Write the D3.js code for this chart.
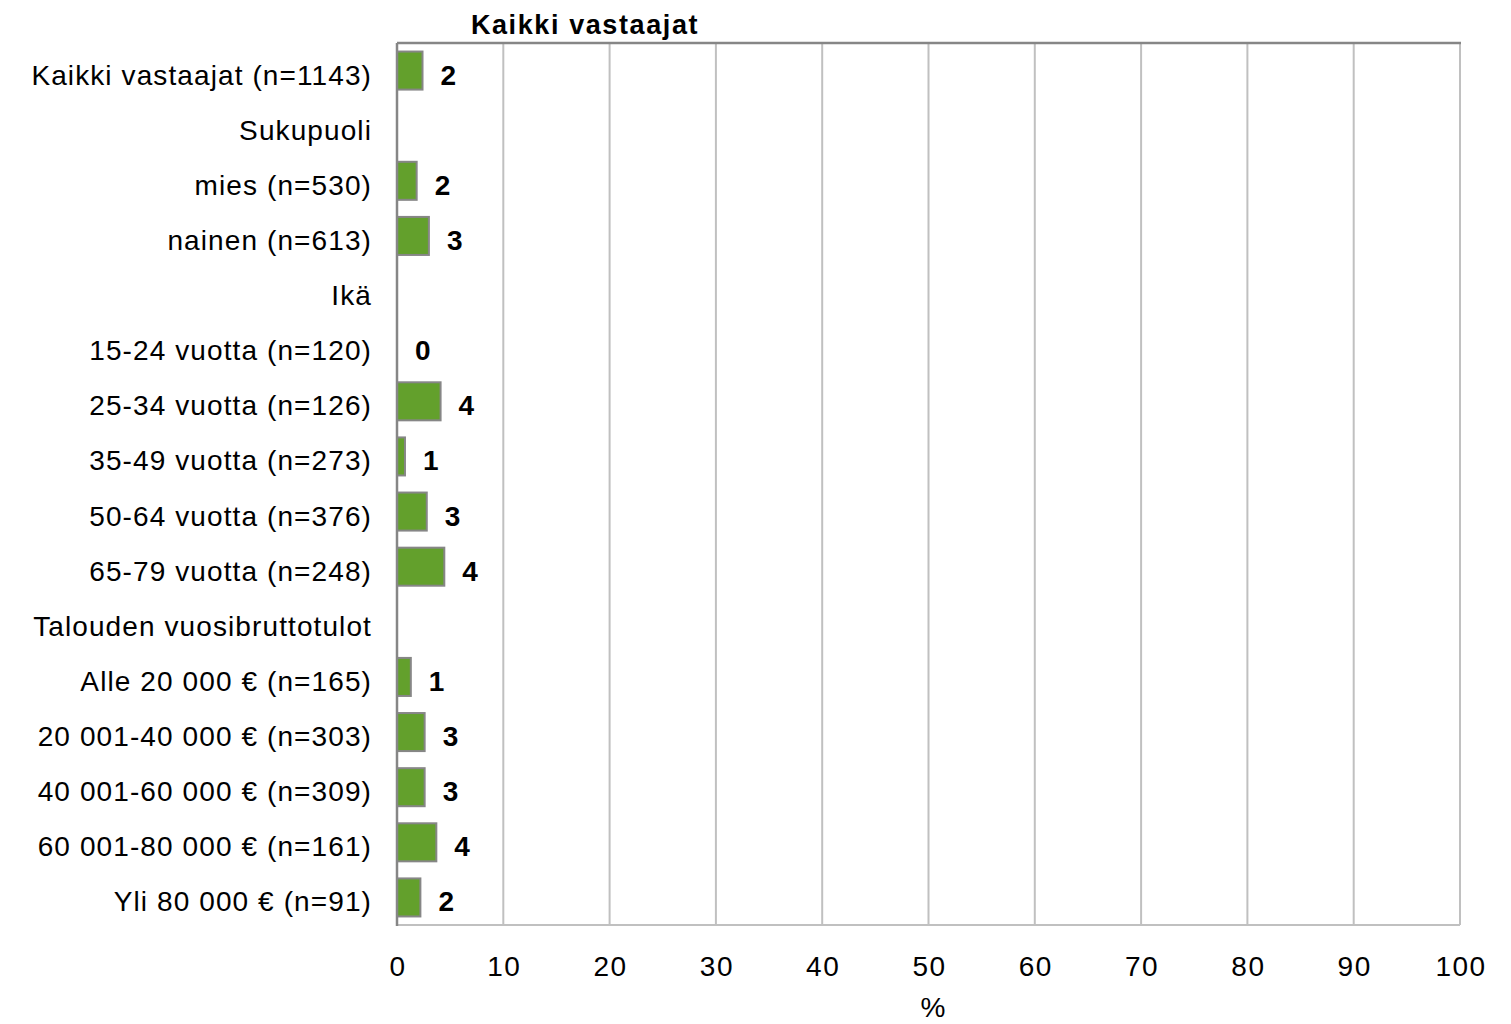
<!DOCTYPE html>
<html>
<head>
<meta charset="utf-8">
<script src="https://cdn.jsdelivr.net/npm/d3@7"></script>
<style>
  body { margin: 0; background: #fff; }
  svg text { font-family: "Liberation Sans", Arial, sans-serif; fill: #000; }
</style>
</head>
<body>
<svg id="chart" width="1511" height="1024"></svg>
<script>
const categories = [
  "Kaikki vastaajat (n=1143)",
  "Sukupuoli",
  "mies (n=530)",
  "nainen (n=613)",
  "Ikä",
  "15-24 vuotta (n=120)",
  "25-34 vuotta (n=126)",
  "35-49 vuotta (n=273)",
  "50-64 vuotta (n=376)",
  "65-79 vuotta (n=248)",
  "Talouden vuosibruttotulot",
  "Alle 20 000 € (n=165)",
  "20 001-40 000 € (n=303)",
  "40 001-60 000 € (n=309)",
  "60 001-80 000 € (n=161)",
  "Yli 80 000 € (n=91)"
];
// null = header row, no bar
const values = [2.4, null, 1.85, 3.0, null, 0, 4.1, 0.75, 2.8, 4.45, null, 1.3, 2.6, 2.6, 3.7, 2.2];
const xTicks = [0, 10, 20, 30, 40, 50, 60, 70, 80, 90, 100];
const title = "Kaikki vastaajat";
const xTitle = "%";

const plotLeft = 397, plotRight = 1460, plotTop = 43, plotBottom = 925;
const svg = d3.select("#chart");

const x = d3.scaleLinear().domain([0, 100]).range([plotLeft, plotRight]);
const y = d3
  .scaleBand()
  .domain(categories)
  .range([plotTop, plotBottom])
  .paddingInner(0.31)
  .paddingOuter(0.155);

const rows = categories.map((c, i) => ({ cat: c, value: values[i] }));

// gridlines
svg.append("g")
  .selectAll("line")
  .data(xTicks.slice(1))
  .enter()
  .append("line")
  .attr("x1", (d) => x(d))
  .attr("x2", (d) => x(d))
  .attr("y1", plotTop)
  .attr("y2", plotBottom)
  .attr("stroke", "#c0c0c0")
  .attr("stroke-width", 2);

// bottom line
svg.append("line")
  .attr("x1", plotLeft).attr("x2", plotRight)
  .attr("y1", plotBottom).attr("y2", plotBottom)
  .attr("stroke", "#c0c0c0").attr("stroke-width", 2);

// top border
svg.append("line")
  .attr("x1", plotLeft).attr("x2", plotRight + 1)
  .attr("y1", plotTop).attr("y2", plotTop)
  .attr("stroke", "#868686").attr("stroke-width", 2.5);

// bars
svg.append("g")
  .selectAll("rect")
  .data(rows.filter((d) => d.value !== null && d.value > 0))
  .enter()
  .append("rect")
  .attr("x", x(0))
  .attr("y", (d) => y(d.cat))
  .attr("width", (d) => x(d.value) - x(0))
  .attr("height", y.bandwidth())
  .attr("fill", "#63a02c")
  .attr("stroke", "#868686")
  .attr("stroke-width", 2);

// left axis
svg.append("line")
  .attr("x1", plotLeft).attr("x2", plotLeft)
  .attr("y1", plotTop).attr("y2", plotBottom + 1)
  .attr("stroke", "#868686").attr("stroke-width", 2.5);

// value labels
svg.append("g")
  .selectAll("text")
  .data(rows.filter((d) => d.value !== null))
  .enter()
  .append("text")
  .attr("x", (d) => x(d.value) + 18)
  .attr("y", (d) => y(d.cat) + y.bandwidth() / 2)
  .attr("dy", "0.5em")
  .attr("font-size", 28)
  .attr("font-weight", "bold")
  .attr("letter-spacing", 1)
  .text((d) => d3.format(".0f")(d.value));

// category labels
svg.append("g")
  .selectAll("text")
  .data(categories)
  .enter()
  .append("text")
  .attr("x", 372)
  .attr("y", (d) => y(d) + y.bandwidth() / 2)
  .attr("dy", "0.5em")
  .attr("text-anchor", "end")
  .attr("font-size", 28)
  .attr("letter-spacing", 1.1)
  .text((d) => d);

// x tick labels
svg.append("g")
  .selectAll("text")
  .data(xTicks)
  .enter()
  .append("text")
  .attr("x", (d) => x(d) + 1)
  .attr("y", 976)
  .attr("text-anchor", "middle")
  .attr("font-size", 28)
  .attr("letter-spacing", 1.5)
  .text((d) => d);

svg.append("text")
  .attr("x", 933)
  .attr("y", 1017)
  .attr("text-anchor", "middle")
  .attr("font-size", 28)
  .text(xTitle);

svg.append("text")
  .attr("x", 585)
  .attr("y", 34)
  .attr("text-anchor", "middle")
  .attr("font-size", 27)
  .attr("font-weight", "bold")
  .attr("letter-spacing", 1.6)
  .text(title);
</script>
</body>
</html>
